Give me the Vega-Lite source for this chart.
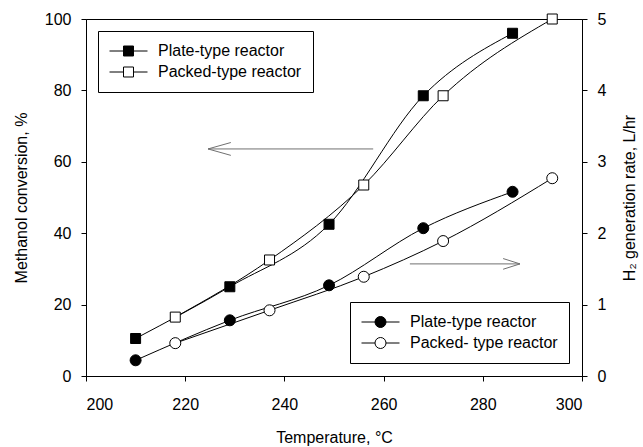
{
  "$schema": "https://vega.github.io/schema/vega-lite/v6.json",
  "width": 496,
  "height": 357,
  "autosize": {"type": "none"},
  "padding": {"left": 86, "top": 19, "right": 61, "bottom": 71},
  "config": {
    "font": "Liberation Sans",
    "view": {"stroke": "black", "strokeWidth": 1},
    "axis": {
      "grid": false,
      "domainColor": "black",
      "tickColor": "black",
      "labelColor": "black",
      "titleColor": "black",
      "labelFontSize": 16,
      "titleFontSize": 16,
      "titleFontWeight": "normal",
      "labelFont": "Liberation Sans",
      "titleFont": "Liberation Sans",
      "tickSize": 5
    },
    "legend": {
      "title": null,
      "labelFontSize": 16,
      "labelFont": "Liberation Sans",
      "labelColor": "black",
      "labelLimit": 400,
      "labelOffset": 10,
      "symbolType": "M-1,0H-0.263M0.263,0H1M-0.263,-0.263H0.263V0.263H-0.263Z",
      "symbolSize": 1444,
      "symbolStrokeColor": "black",
      "symbolStrokeWidth": 1,
      "symbolOpacity": 1,
      "strokeColor": "black",
      "fillColor": "white",
      "padding": 11,
      "rowPadding": 3,
      "clipHeight": 18
    }
  },
  "datasets": {
    "conv": [
      {"T": 210, "conv": 10.5, "series": "Plate-type reactor"},
      {"T": 229, "conv": 25, "series": "Plate-type reactor"},
      {"T": 249, "conv": 42.5, "series": "Plate-type reactor"},
      {"T": 268, "conv": 78.5, "series": "Plate-type reactor"},
      {"T": 286, "conv": 96, "series": "Plate-type reactor"},
      {"T": 218, "conv": 16.5, "series": "Packed-type reactor"},
      {"T": 237, "conv": 32.5, "series": "Packed-type reactor"},
      {"T": 256, "conv": 53.5, "series": "Packed-type reactor"},
      {"T": 272, "conv": 78.5, "series": "Packed-type reactor"},
      {"T": 294, "conv": 100, "series": "Packed-type reactor"}
    ],
    "h2": [
      {"T": 210, "h2": 0.22, "series": "Plate-type reactor"},
      {"T": 229, "h2": 0.78, "series": "Plate-type reactor"},
      {"T": 249, "h2": 1.27, "series": "Plate-type reactor"},
      {"T": 268, "h2": 2.07, "series": "Plate-type reactor"},
      {"T": 286, "h2": 2.58, "series": "Plate-type reactor"},
      {"T": 218, "h2": 0.46, "series": "Packed- type reactor"},
      {"T": 237, "h2": 0.92, "series": "Packed- type reactor"},
      {"T": 256, "h2": 1.39, "series": "Packed- type reactor"},
      {"T": 272, "h2": 1.89, "series": "Packed- type reactor"},
      {"T": 294, "h2": 2.77, "series": "Packed- type reactor"}
    ],
    "arrows": [
      {"seg": "L", "k": 0, "T": 257.9, "conv": 63.6},
      {"seg": "L", "k": 1, "T": 224.6, "conv": 63.6},
      {"seg": "Lh", "k": 0, "T": 229.2, "conv": 65.4},
      {"seg": "Lh", "k": 1, "T": 224.6, "conv": 63.6},
      {"seg": "Lh", "k": 2, "T": 229.2, "conv": 61.8},
      {"seg": "R", "k": 0, "T": 265.3, "conv": 31.4},
      {"seg": "R", "k": 1, "T": 287.5, "conv": 31.4},
      {"seg": "Rh", "k": 0, "T": 284.1, "conv": 32.9},
      {"seg": "Rh", "k": 1, "T": 287.5, "conv": 31.4},
      {"seg": "Rh", "k": 2, "T": 284.1, "conv": 29.9}
    ]
  },
  "layer": [
    {
      "encoding": {
        "x": {
          "field": "T",
          "type": "quantitative",
          "scale": {"domain": [200, 300], "nice": false, "zero": false},
          "axis": {"values": [200, 220, 240, 260, 280, 300], "title": "Temperature, °C", "labelPadding": 15, "titlePadding": 17}
        },
        "y": {
          "field": "conv",
          "type": "quantitative",
          "scale": {"domain": [0, 100], "nice": false},
          "axis": {"orient": "left", "values": [0, 20, 40, 60, 80, 100], "title": "Methanol conversion, %", "labelPadding": 10, "titlePadding": 15}
        }
      },
      "layer": [
        {
          "data": {"name": "conv"},
          "mark": {"type": "line", "interpolate": "monotone", "color": "black", "strokeWidth": 1},
          "encoding": {"detail": {"field": "series"}}
        },
        {
          "data": {"name": "conv"},
          "mark": {"type": "point", "shape": "square", "filled": true, "stroke": "black", "strokeWidth": 1, "size": 100, "opacity": 1},
          "encoding": {
            "fill": {
              "field": "series",
              "type": "nominal",
              "scale": {"domain": ["Plate-type reactor", "Packed-type reactor"], "range": ["black", "white"]},
              "legend": {"orient": "top-left", "offset": 12}
            }
          }
        },
        {
          "data": {"name": "arrows"},
          "mark": {"type": "line", "color": "#707070", "strokeWidth": 1},
          "encoding": {"detail": {"field": "seg"}, "order": {"field": "k"}}
        }
      ]
    },
    {
      "encoding": {
        "x": {"field": "T", "type": "quantitative", "scale": {"domain": [200, 300], "nice": false, "zero": false}},
        "y": {
          "field": "h2",
          "type": "quantitative",
          "scale": {"domain": [0, 5], "nice": false},
          "axis": {"orient": "right", "values": [0, 1, 2, 3, 4, 5], "title": "H₂ generation rate, L/hr", "titleAngle": 270, "labelPadding": 10, "titlePadding": 32}
        }
      },
      "layer": [
        {
          "data": {"name": "h2"},
          "mark": {"type": "line", "interpolate": "monotone", "color": "black", "strokeWidth": 1},
          "encoding": {"detail": {"field": "series"}}
        },
        {
          "data": {"name": "h2"},
          "mark": {"type": "point", "shape": "circle", "filled": true, "stroke": "black", "strokeWidth": 1, "size": 121, "opacity": 1},
          "encoding": {
            "fill": {
              "field": "series",
              "type": "nominal",
              "scale": {"domain": ["Plate-type reactor", "Packed- type reactor"], "range": ["black", "white"]},
              "legend": {"orient": "bottom-right", "offset": 13, "symbolType": "M-1,0H-0.29M0.29,0H1M-0.29,0A0.29,0.29,0,1,0,0.29,0A0.29,0.29,0,1,0,-0.29,0Z"}
            }
          }
        }
      ]
    }
  ],
  "resolve": {"scale": {"y": "independent", "fill": "independent"}}
}
